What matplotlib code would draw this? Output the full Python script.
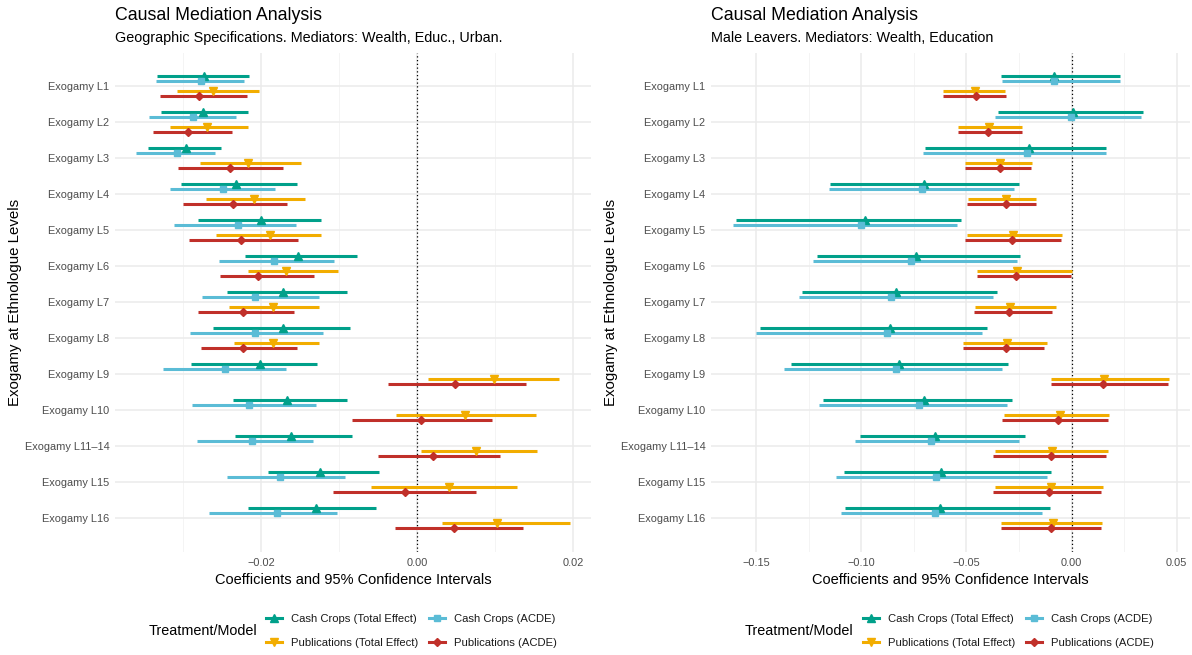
import matplotlib
matplotlib.use("Agg")
import numpy as np
import matplotlib.pyplot as plt
from matplotlib.lines import Line2D

plt.rcParams['font.family'] = ['Liberation Sans', 'DejaVu Sans']

# Exogamy levels (top to bottom)
levels = ["Exogamy L1", "Exogamy L2", "Exogamy L3", "Exogamy L4", "Exogamy L5",
          "Exogamy L6", "Exogamy L7", "Exogamy L8", "Exogamy L9", "Exogamy L10",
          "Exogamy L11\u201314", "Exogamy L15", "Exogamy L16"]

series_names = ["Cash Crops (Total Effect)", "Cash Crops (ACDE)",
                "Publications (Total Effect)", "Publications (ACDE)"]

# left panel: geographic specifications -- (estimate, low, high)
geo_cash_total = [(-0.0273, -0.0333, -0.0215), (-0.0274, -0.0328, -0.0217), (-0.0296, -0.0345, -0.0251),
                  (-0.0232, -0.0302, -0.0154), (-0.0200, -0.0281, -0.0123), (-0.0152, -0.0221, -0.0077),
                  (-0.0172, -0.0243, -0.0090), (-0.0172, -0.0262, -0.0086), (-0.0201, -0.0289, -0.0128),
                  (-0.0166, -0.0236, -0.0090), (-0.0162, -0.0233, -0.0083), (-0.0124, -0.0191, -0.0049),
                  (-0.0130, -0.0216, -0.0053)]
geo_cash_acde = [(-0.0277, -0.0335, -0.0222), (-0.0287, -0.0343, -0.0232), (-0.0307, -0.0360, -0.0259),
                 (-0.0248, -0.0317, -0.0182), (-0.0230, -0.0312, -0.0155), (-0.0183, -0.0254, -0.0106),
                 (-0.0207, -0.0275, -0.0126), (-0.0207, -0.0291, -0.0120), (-0.0246, -0.0326, -0.0168),
                 (-0.0215, -0.0288, -0.0129), (-0.0212, -0.0282, -0.0133), (-0.0175, -0.0243, -0.0092),
                 (-0.0180, -0.0266, -0.0102)]
geo_pub_total = [(-0.0261, -0.0307, -0.0202), (-0.0269, -0.0316, -0.0217), (-0.0217, -0.0278, -0.0149),
                 (-0.0209, -0.0271, -0.0144), (-0.0189, -0.0258, -0.0123), (-0.0168, -0.0216, -0.0101),
                 (-0.0185, -0.0241, -0.0125), (-0.0185, -0.0234, -0.0126), (0.0099, 0.0014, 0.0182),
                 (0.0061, -0.0027, 0.0152), (0.0076, 0.0005, 0.0154), (0.0041, -0.0059, 0.0128),
                 (0.0102, 0.0032, 0.0196)]
geo_pub_acde = [(-0.0279, -0.0329, -0.0218), (-0.0293, -0.0338, -0.0237), (-0.0240, -0.0306, -0.0172),
                (-0.0236, -0.0300, -0.0167), (-0.0225, -0.0292, -0.0152), (-0.0204, -0.0252, -0.0132),
                (-0.0223, -0.0281, -0.0158), (-0.0223, -0.0277, -0.0154), (0.0049, -0.0037, 0.0140),
                (0.0005, -0.0083, 0.0096), (0.0021, -0.0050, 0.0106), (-0.0015, -0.0107, 0.0075),
                (0.0047, -0.0028, 0.0136)]

# right panel: male leavers
male_cash_total = [(-0.0085, -0.0334, 0.0231), (0.0007, -0.0350, 0.0338), (-0.0202, -0.0695, 0.0165),
                   (-0.0701, -0.1151, -0.0252), (-0.0984, -0.1597, -0.0526), (-0.0742, -0.1212, -0.0247),
                   (-0.0837, -0.1281, -0.0354), (-0.0862, -0.1483, -0.0403), (-0.0819, -0.1336, -0.0301),
                   (-0.0702, -0.1182, -0.0285), (-0.0648, -0.1007, -0.0223), (-0.0621, -0.1084, -0.0096),
                   (-0.0624, -0.1078, -0.0102)]
male_cash_acde = [(-0.0084, -0.0329, 0.0229), (-0.0004, -0.0363, 0.0329), (-0.0212, -0.0706, 0.0162),
                  (-0.0713, -0.1153, -0.0276), (-0.1004, -0.1608, -0.0546), (-0.0762, -0.1231, -0.0261),
                  (-0.0857, -0.1296, -0.0374), (-0.0880, -0.1503, -0.0427), (-0.0837, -0.1368, -0.0330),
                  (-0.0724, -0.1203, -0.0309), (-0.0670, -0.1029, -0.0251), (-0.0646, -0.1120, -0.0116),
                  (-0.0648, -0.1098, -0.0140)]
male_pub_total = [(-0.0459, -0.0612, -0.0316), (-0.0394, -0.0541, -0.0238), (-0.0339, -0.0506, -0.0187),
                  (-0.0310, -0.0494, -0.0169), (-0.0278, -0.0497, -0.0045), (-0.0258, -0.0448, 0.0000),
                  (-0.0294, -0.0459, -0.0073), (-0.0305, -0.0515, -0.0118), (0.0156, -0.0096, 0.0463),
                  (-0.0056, -0.0321, 0.0176), (-0.0091, -0.0363, 0.0174), (-0.0098, -0.0365, 0.0147),
                  (-0.0089, -0.0334, 0.0143)]
male_pub_acde = [(-0.0457, -0.0612, -0.0314), (-0.0396, -0.0541, -0.0234), (-0.0341, -0.0506, -0.0192),
                 (-0.0314, -0.0497, -0.0169), (-0.0283, -0.0505, -0.0051), (-0.0265, -0.0448, -0.0005),
                 (-0.0300, -0.0463, -0.0091), (-0.0310, -0.0515, -0.0131), (0.0151, -0.0096, 0.0457),
                 (-0.0065, -0.0332, 0.0171), (-0.0100, -0.0372, 0.0165), (-0.0107, -0.0372, 0.0142),
                 (-0.0098, -0.0338, 0.0138)]

colors = ["#00A08A", "#5BBCD6", "#F2AD00", "#C0302A"]
markers = ["^", "s", "v", "D"]
msizes = [5.5, 4.8, 5.5, 4.2]
offsets = [-0.28, -0.145, 0.135, 0.27]   # dodge, in rows

W, H = 1192, 655
fig = plt.figure(figsize=(W / 100, H / 100), dpi=100)


def px_box(x0, x1, y0, y1):
    return [x0 / W, 1 - y1 / H, (x1 - x0) / W, (y1 - y0) / H]


def draw_panel(ax, data, xlim, major, minor, subtitle, left_px):
    n = len(levels)
    ypos = np.arange(n)
    for k, ser in enumerate(data):
        arr = np.array(ser)
        y = ypos + offsets[k]
        ax.hlines(y, arr[:, 1], arr[:, 2], color=colors[k], lw=2.2, zorder=3)
        ax.plot(arr[:, 0], y, ls='none', marker=markers[k], color=colors[k],
                ms=msizes[k], zorder=4)
    ax.axvline(0, color='black', ls=(0, (1, 2)), lw=0.9, zorder=2)
    ax.set_xlim(*xlim)
    ax.set_ylim(n - 1 + 0.94, -0.92)
    ax.set_yticks(ypos)
    ax.set_yticklabels(levels)
    ax.set_xticks(major)
    ax.set_xticklabels([f"{v:.2f}".replace("-", "\u2212") for v in major])
    ax.set_xticks(minor, minor=True)
    ax.grid(True, which='major', color='#EBEBEB', lw=1.1)
    ax.grid(True, which='minor', axis='x', color='#F2F2F2', lw=0.6)
    ax.set_axisbelow(True)
    for s in ax.spines.values():
        s.set_visible(False)
    ax.tick_params(which='both', length=0, labelsize=7.9, labelcolor='#4D4D4D', pad=4)
    ax.set_xlabel("Coefficients and 95% Confidence Intervals", fontsize=10.5, labelpad=4)
    ax.set_ylabel("Exogamy at Ethnologue Levels", fontsize=10.8, labelpad=2)
    fig.text(left_px / W, 1 - 15 / H, "Causal Mediation Analysis", fontsize=12.8,
             va='center', ha='left')
    fig.text(left_px / W, 1 - 38 / H, subtitle, fontsize=10.4, va='center', ha='left')


ax1 = fig.add_axes(px_box(115, 591, 53, 552))
draw_panel(ax1, [geo_cash_total, geo_cash_acde, geo_pub_total, geo_pub_acde],
           (-0.0387, 0.0223), [-0.02, 0.0, 0.02], [-0.03, -0.01, 0.01],
           "Geographic Specifications. Mediators: Wealth, Educ., Urban.", 115)

ax2 = fig.add_axes(px_box(711, 1190, 53, 552))
draw_panel(ax2, [male_cash_total, male_cash_acde, male_pub_total, male_pub_acde],
           (-0.1715, 0.0563), [-0.15, -0.10, -0.05, 0.0, 0.05],
           [-0.125, -0.075, -0.025, 0.025],
           "Male Leavers. Mediators: Wealth, Education", 711)

# legends
handles = [Line2D([0], [0], color=colors[k], lw=2.2, marker=markers[k], ms=msizes[k])
           for k in range(4)]
order = [0, 2, 1, 3]
for title_x, leg_x in [(149, 266), (745, 863)]:
    fig.text(title_x / W, 1 - 631 / H, "Treatment/Model", fontsize=10.4, va='center', ha='left')
    fig.legend([handles[i] for i in order], [series_names[i] for i in order],
               ncol=2, loc='center left', bbox_to_anchor=(leg_x / W, 1 - 631 / H),
               frameon=False, fontsize=8.1, handlelength=1.4, handletextpad=0.8,
               columnspacing=1.0, labelspacing=1.25, borderpad=0, borderaxespad=0,
               labelcolor='#1A1A1A')

fig.savefig("out.png", dpi=100)
